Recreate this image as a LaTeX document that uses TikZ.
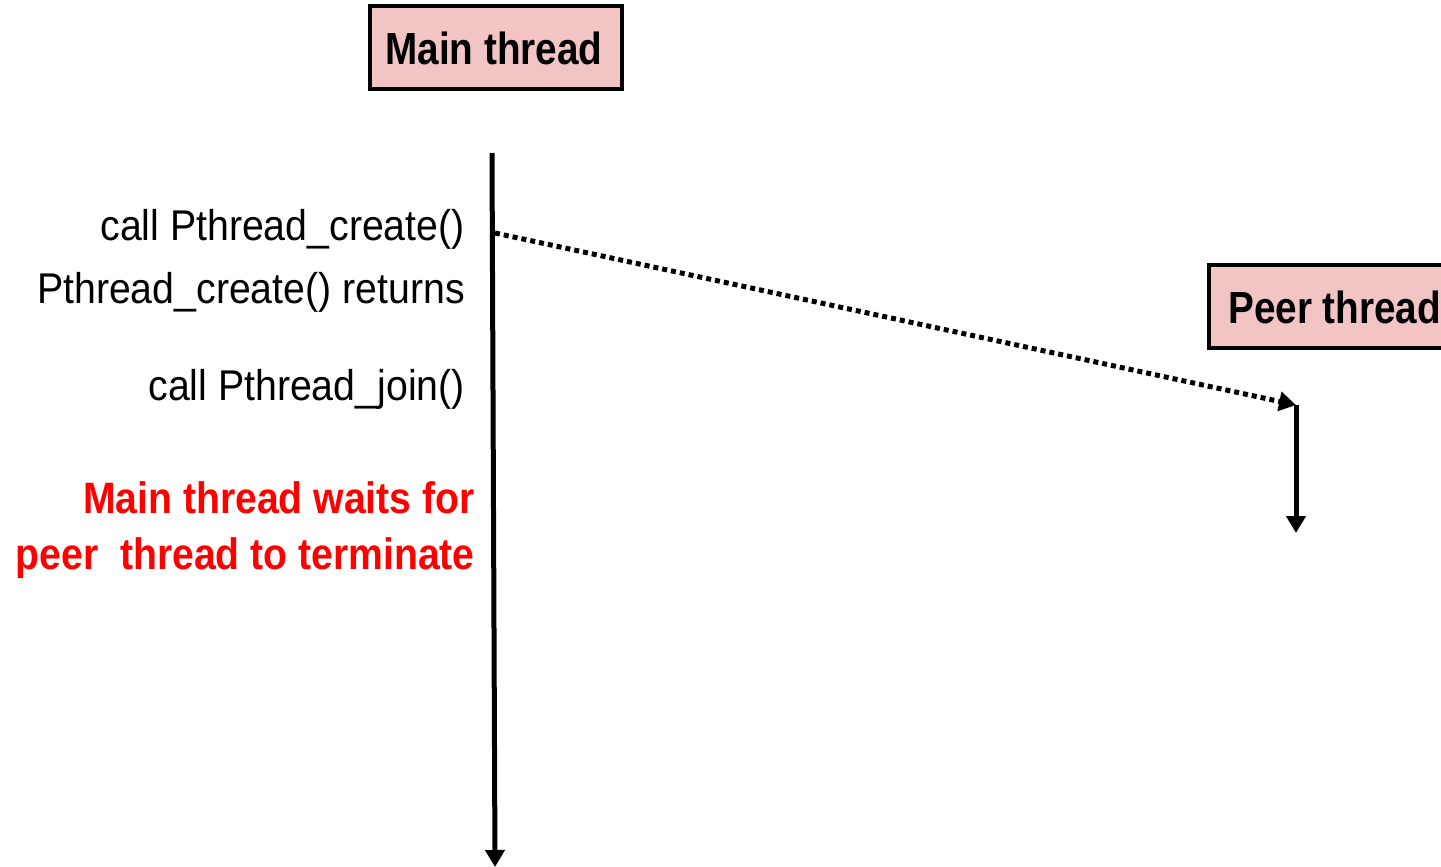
\documentclass[tikz,border=0pt]{standalone}
\usepackage{fontspec}
\setmainfont{Liberation Sans}
\newfontfamily\regfont[FakeStretch=0.913]{Liberation Sans}
\newfontfamily\bfnarrow[FakeStretch=0.86]{Liberation Sans Bold}
\newfontfamily\bfred[FakeStretch=0.89]{Liberation Sans Bold}
\usetikzlibrary{arrows.meta}
\definecolor{boxpink}{RGB}{242,196,196}
\definecolor{redtext}{RGB}{255,0,0}
\begin{document}
\begin{tikzpicture}[x=1pt,y=-1pt,
  threadbox/.style={draw=black,line width=4.5pt,fill=boxpink,inner sep=0pt,
    font=\bfnarrow\fontsize{45}{54}\selectfont},
  steplabel/.style={anchor=base east,inner sep=0pt,font=\regfont\fontsize{43}{50}\selectfont},
  redlabel/.style={anchor=base east,inner sep=0pt,text=redtext,align=right,
    font=\bfred\fontsize{44}{56}\selectfont},
  timeline/.style={line width=5pt,-{Triangle[length=17pt,width=19pt]}},
  spawn/.style={line width=5pt,dash pattern=on 5pt off 4pt,-{Triangle[length=17pt,width=19pt]}}
]
\useasboundingbox (0,0) rectangle (1441,867);
% boxes
\draw[threadbox] (370,6) rectangle (622,89);
\node[inner sep=0pt,font=\bfnarrow\fontsize{45}{54}\selectfont] (mainlbl) at (494,48) {Main thread};
\draw[threadbox] (1209,265) rectangle (1470,348);
\node[inner sep=0pt,anchor=west,font=\bfnarrow\fontsize{45}{54}\selectfont] (peerlbl) at (1228,307) {Peer thread};
% coordinates
\coordinate (mtop) at (492,153);
\coordinate (mbot) at (495,867);
\coordinate (fork) at (495,233);
\coordinate (ptop) at (1296,405);
\coordinate (pbot) at (1296,533);
% lines
\draw[timeline] (mtop) -- (mbot);
\draw[spawn] (fork) -- (ptop);
\draw[timeline] (ptop) -- (pbot);
% labels
\node[steplabel] (l1) at (465,240) {call Pthread\_create()};
\node[steplabel] (l2) at (465,303) {Pthread\_create() returns};
\node[steplabel] (l3) at (465,400) {call Pthread\_join()};
\node[redlabel] (r1) at (475,513) {Main thread waits for};
\node[redlabel] (r2) at (475,569) {peer\ \ thread to terminate};
\end{tikzpicture}
\end{document}
